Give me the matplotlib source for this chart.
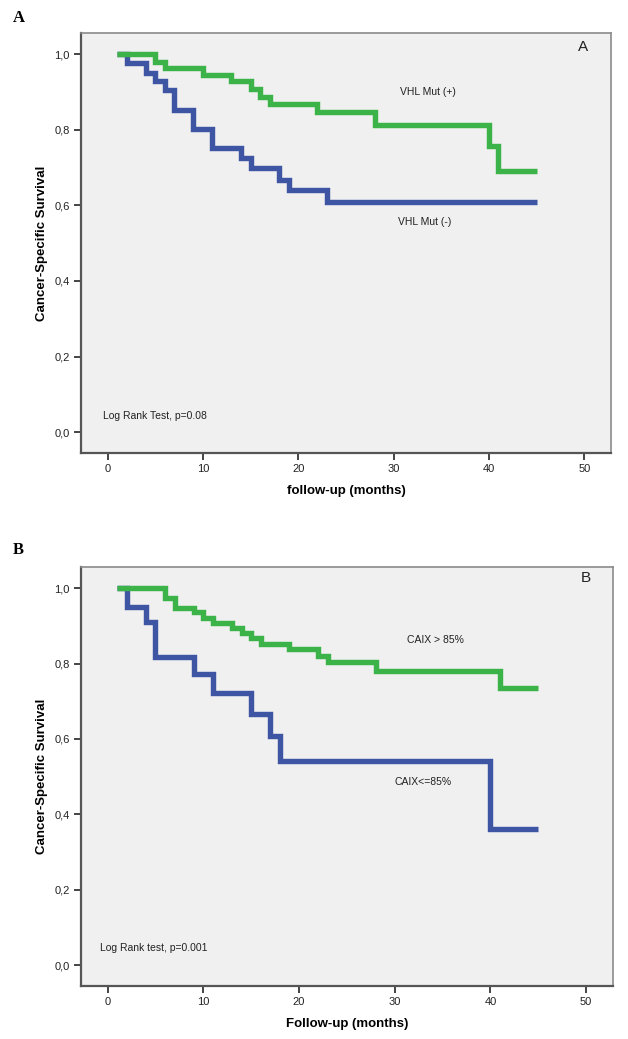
import numpy as np
import matplotlib
matplotlib.use("Agg")
import matplotlib.pyplot as plt

plt.rcParams['font.family'] = ['Liberation Sans', 'DejaVu Sans']

# Panel A: VHL mutation status (Kaplan-Meier steps)
A_POS_T = [1, 5, 6, 10, 13, 15, 16, 17, 22, 28, 40, 41, 45]
A_POS_S = [1.0, 0.980, 0.963, 0.945, 0.928, 0.907, 0.888, 0.868, 0.847, 0.813, 0.756, 0.692, 0.692]
A_NEG_T = [1, 2, 4, 5, 6, 7, 9, 11, 14, 15, 18, 19, 23, 45]
A_NEG_S = [1.0, 0.976, 0.951, 0.928, 0.904, 0.853, 0.802, 0.752, 0.725, 0.699, 0.668, 0.641, 0.610, 0.610]

# Panel B: CAIX expression
B_HI_T = [1, 6, 7, 9, 10, 11, 13, 14, 15, 16, 19, 22, 23, 28, 41, 45]
B_HI_S = [1.0, 0.974, 0.948, 0.936, 0.921, 0.908, 0.894, 0.881, 0.868, 0.852, 0.839, 0.821, 0.803, 0.781, 0.736, 0.736]
B_LO_T = [1, 2, 4, 5, 9, 11, 15, 17, 18, 40, 45]
B_LO_S = [1.0, 0.951, 0.909, 0.818, 0.771, 0.721, 0.665, 0.609, 0.541, 0.36, 0.36]

Y_TICKS = [0.0, 0.2, 0.4, 0.6, 0.8, 1.0]
Y_LABELS = ['0,0', '0,2', '0,4', '0,6', '0,8', '1,0']
X_TICKS = [0, 10, 20, 30, 40, 50]

GREEN = '#3bb348'
BLUE = '#3e55a4'

W, H = 628, 1039
fig = plt.figure(figsize=(W / 100, H / 100), dpi=100)


def box(x0, y0, x1, y1):
    return [x0 / W, 1 - y1 / H, (x1 - x0) / W, (y1 - y0) / H]


def style_axes(ax, xlabel):
    ax.set_facecolor('#f0f0f0')
    ax.set_xlim(-2.78, 52.8)
    ax.set_ylim(-0.055, 1.056)
    ax.set_xticks(X_TICKS)
    ax.set_yticks(Y_TICKS)
    ax.set_yticklabels(Y_LABELS)
    ax.tick_params(direction='out', length=5, width=1.4, color='#444444',
                   labelsize=8, labelcolor='#222222', pad=3)
    for side in ['top', 'right']:
        ax.spines[side].set_color('#8a8a8a')
        ax.spines[side].set_linewidth(1.2)
    for side in ['left', 'bottom']:
        ax.spines[side].set_color('#555555')
        ax.spines[side].set_linewidth(1.6)
    ax.set_ylabel('Cancer-Specific Survival', fontsize=9.5, fontweight='bold', labelpad=5)
    ax.set_xlabel(xlabel, fontsize=9.5, fontweight='bold', labelpad=8)


# ---- panel A ----
axA = fig.add_axes(box(81, 33, 611, 453))
axA.step(A_NEG_T, A_NEG_S, where='post', color=BLUE, lw=3.9, solid_joinstyle='miter', solid_capstyle='butt')
axA.step(A_POS_T, A_POS_S, where='post', color=GREEN, lw=3.9, solid_joinstyle='miter', solid_capstyle='butt')
style_axes(axA, 'follow-up (months)')
axA.text(33.6, 0.901, 'VHL Mut (+)', fontsize=7.5, ha='center', va='center', color='#222222')
axA.text(33.3, 0.555, 'VHL Mut (-)', fontsize=7.5, ha='center', va='center', color='#222222')
axA.text(-0.45, 0.044, 'Log Rank Test, p=0.08', fontsize=7.5, ha='left', va='center', color='#222222')
axA.text(49.9, 1.019, 'A', fontsize=11, ha='center', va='center', color='#222222')

# ---- panel B ----
axB = fig.add_axes(box(81, 567, 613, 986))
axB.step(B_LO_T, B_LO_S, where='post', color=BLUE, lw=3.9, solid_joinstyle='miter', solid_capstyle='butt')
axB.step(B_HI_T, B_HI_S, where='post', color=GREEN, lw=3.9, solid_joinstyle='miter', solid_capstyle='butt')
style_axes(axB, 'Follow-up (months)')
axB.text(34.2, 0.863, 'CAIX > 85%', fontsize=7.5, ha='center', va='center', color='#222222')
axB.text(33.0, 0.485, 'CAIX<=85%', fontsize=7.5, ha='center', va='center', color='#222222')
axB.text(-0.8, 0.046, 'Log Rank test, p=0.001', fontsize=7.5, ha='left', va='center', color='#222222')
axB.text(50.0, 1.026, 'B', fontsize=11, ha='center', va='center', color='#222222')

# panel letters
fig.text(13 / W, 1 - 18 / H, 'A', fontsize=12, fontweight='bold', family='Liberation Serif', va='center')
fig.text(13 / W, 1 - 550 / H, 'B', fontsize=12, fontweight='bold', family='Liberation Serif', va='center')

fig.savefig('out.png', dpi=100, facecolor='white')
